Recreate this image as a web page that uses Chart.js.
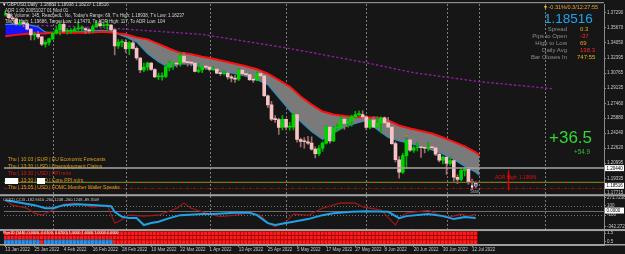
<!DOCTYPE html>
<html lang="en">
<head>
<meta charset="utf-8">
<title>GBPUSD Daily</title>
<script src="https://cdn.jsdelivr.net/npm/chart.js@4.4.1/dist/chart.umd.min.js"></script>
<style>
  html, body { margin: 0; padding: 0; background: #161616; }
  #wrap { position: relative; width: 625px; height: 254px; overflow: hidden; font-family: "Liberation Sans", Arial, sans-serif; }
  #c { position: absolute; left: 0; top: 0; }
  .t { position: absolute; white-space: nowrap; line-height: 1; }
  .hd { left: 5px; font-size: 4.5px; color: #d4d4d4; }
  .ev { left: 8px; font-size: 5px; color: #d9a11e; }
  .lb { right: 58px; font-size: 6px; color: #8c8c8c; text-align: right; }
  .vl { left: 580px; font-size: 6px; }
</style>
</head>
<body>
<div id="wrap">
  <canvas id="c" width="625" height="254"></canvas>

  <div class="t hd" style="top:2.5px;left:3px"><span style="color:#fff">&#9662;</span> GBPUSD,Daily&nbsp; 1.18883 1.18938 1.18237 1.18516</div>
  <div class="t hd" style="top:8.5px">ADR 1.00 20051027 01 Mod 01</div>
  <div class="t hd" style="top:13.5px">Tick Volume: 145, ReachedL: No, Today's Range: 69, T's High: 1.18938, T's Low: 1.18237</div>
  <div class="t hd" style="top:19.5px">Target High: 1.19686, Target Low: 1.17479, To ADR High: 117, To ADR Low: 104</div>

  <div class="t" style="left:544px;top:4.5px;font-size:5.5px;color:#e9a23a"><span style="color:#e8c020">&#9662;</span> -0.31%/0.3/12:27:55</div>
  <div class="t" style="left:544px;top:12px;font-size:13.5px;color:#22a2ec">1.18516</div>
  <div class="t lb" style="top:25.7px">Spread</div><div class="t vl" style="top:25.7px;color:#e8a020">0.3</div>
  <div class="t lb" style="top:33px">Pips to Open</div><div class="t vl" style="top:33px;color:#ff2424">-37</div>
  <div class="t lb" style="top:40px">High to Low</div><div class="t vl" style="top:40px;color:#e8a020">69</div>
  <div class="t lb" style="top:47px">Daily Avg</div><div class="t vl" style="top:47px;color:#ff2424">138.3</div>
  <div class="t lb" style="top:54.4px">Bar Closes In</div><div class="t vl" style="top:54.4px;left:577px;color:#e8b020">747:55</div>

  <div class="t" style="left:549px;top:129px;font-size:17px;color:#33d633">+36.5</div>
  <div class="t" style="left:574px;top:149px;font-size:6.3px;color:#33c033">+54.9</div>

  <div class="t ev" style="top:157.2px">Thu | 10:03 | EUR | EU Economic Forecasts</div>
  <div class="t ev" style="top:164.2px">Thu | 13:30 | USD | Unemployment Claims</div>
  <div class="t ev" style="top:171.2px;color:#e01818">Thu | 13:30 | USD | PPI m/m</div>
  <div class="t ev" style="top:178.2px">Thu | 13:30 | USD | Core PPI m/m</div>
  <div class="t ev" style="top:185.2px">Thu | 15:05 | USD | FOMC Member Waller Speaks</div>
  <div class="t" style="left:5px;top:178px;width:13px;height:6px;background:#fff"></div>
  <div class="t" style="left:37px;top:178px;width:8px;height:6px;background:#fff"></div>

  <div class="t" style="left:495px;top:175.5px;font-size:4.8px;color:#e01010">ADR High: 1.19686</div>
  <div class="t" style="left:470px;top:189.5px;font-size:4.5px;color:#8aa0c0">Start</div>

  <div class="t" style="left:3px;top:198px;font-size:4px;color:#c8c8c8">CCI(2) CCI3 -182.9410 -260.1248 -260.1248 -89.3509</div>
  <div class="t" style="left:3px;top:231.8px;font-size:3.8px;color:#ffffff">Pips20 (1440, 0.0000, 0.0100, 0.0200) 1.0000 1.0000 1.0000 0.0000</div>
</div>

<script>
// GBPUSD daily, 13 Jan 2022 .. 13 Jul 2022 (bar index 0 .. 129)
const dateTickIdx = [0, 8, 16, 24, 32, 40, 48, 56, 64, 72, 80, 88, 96, 104, 112, 120, 128];
const dateTickLabels = ['13 Jan 2022', '25 Jan 2022', '4 Feb 2022', '16 Feb 2022', '28 Feb 2022', '10 Mar 2022',
  '22 Mar 2022', '1 Apr 2022', '13 Apr 2022', '25 Apr 2022', '5 May 2022', '17 May 2022', '27 May 2022',
  '8 Jun 2022', '20 Jun 2022', '30 Jun 2022', '12 Jul 2022'];
const monthSepIdx = [13, 33, 56, 77, 99, 121, 148];
const nowIdx = 130;

const priceTicks = [1.37290, 1.35670, 1.34050, 1.32395, 1.30765, 1.29135, 1.27460, 1.25880, 1.24240, 1.22620, 1.20995, 1.19335, 1.17715];

const openP = [
  1.3712,1.3716,1.3677,1.3665,1.3610,1.3617,1.3613,1.3553,1.3490,1.3497,
  1.3470,1.3390,1.3410,1.3448,1.3509,1.3545,1.3605,1.3530,1.3530,1.3535,
  1.3555,1.3560,1.3560,1.3545,1.3535,1.3580,1.3615,1.3590,1.3595,1.3597,
  1.3545,1.3370,1.3410,1.3410,1.3340,1.3405,1.3345,1.3240,1.3110,1.3140,
  1.3185,1.3115,1.3035,1.3035,1.3040,1.3145,1.3180,1.3180,1.3175,1.3260,
  1.3195,1.3190,1.3185,1.3095,1.3110,1.3145,1.3140,1.3115,1.3120,1.3075,
  1.3070,1.3075,1.3035,1.3020,1.3010,1.3110,1.3070,1.3060,1.3005,1.3000,
  1.3070,1.3045,1.2830,1.2730,1.2575,1.2570,1.2485,1.2575,1.2490,1.2490,
  1.2625,1.2355,1.2335,1.2330,1.2315,1.2250,1.2200,1.2260,1.2315,1.2490,
  1.2340,1.2480,1.2480,1.2575,1.2530,1.2555,1.2600,1.2625,1.2625,1.2600,
  1.2485,1.2565,1.2490,1.2530,1.2590,1.2535,1.2490,1.2310,1.2135,1.2000,
  1.2180,1.2350,1.2240,1.2265,1.2275,1.2265,1.2260,1.2270,1.2265,1.2195,
  1.2130,1.2165,1.2095,1.2125,1.1945,1.1920,1.2020,1.2030,1.1890,1.18883];
const highP = [
  1.3748,1.3737,1.3688,1.3680,1.3645,1.3647,1.3625,1.3560,1.3520,1.3530,
  1.3475,1.3425,1.3455,1.3520,1.3580,1.3628,1.3645,1.3560,1.3560,1.3575,
  1.3640,1.3590,1.3570,1.3560,1.3600,1.3645,1.3645,1.3620,1.3645,1.3605,
  1.3555,1.3440,1.3440,1.3440,1.3420,1.3435,1.3360,1.3245,1.3185,1.3195,
  1.3190,1.3125,1.3075,1.3080,1.3165,1.3210,1.3195,1.3200,1.3300,1.3298,
  1.3215,1.3235,1.3185,1.3180,1.3150,1.3175,1.3165,1.3150,1.3150,1.3110,
  1.3100,1.3080,1.3055,1.3055,1.3125,1.3150,1.3080,1.3075,1.3040,1.3090,
  1.3090,1.3050,1.2840,1.2770,1.2615,1.2585,1.2615,1.2580,1.2540,1.2640,
  1.2640,1.2370,1.2375,1.2390,1.2385,1.2275,1.2290,1.2330,1.2500,1.2495,
  1.2500,1.2525,1.2600,1.2600,1.2600,1.2620,1.2660,1.2665,1.2665,1.2615,
  1.2570,1.2600,1.2600,1.2600,1.2600,1.2595,1.2505,1.2330,1.2170,1.2205,
  1.2405,1.2360,1.2285,1.2325,1.2315,1.2295,1.2325,1.2310,1.2290,1.2215,
  1.2175,1.2165,1.2165,1.2165,1.1970,1.2035,1.2050,1.2040,1.1925,1.18938];
const lowP = [
  1.3697,1.3657,1.3645,1.3595,1.3590,1.3580,1.3545,1.3437,1.3435,1.3450,
  1.3375,1.3358,1.3380,1.3440,1.3500,1.3490,1.3520,1.3500,1.3505,1.3525,
  1.3520,1.3525,1.3505,1.3510,1.3515,1.3575,1.3580,1.3575,1.3530,1.3530,
  1.3272,1.3345,1.3360,1.3300,1.3275,1.3335,1.3220,1.3080,1.3090,1.3105,
  1.3105,1.3030,1.3005,1.3000,1.3025,1.3100,1.3115,1.3140,1.3150,1.3180,
  1.3150,1.3155,1.3090,1.3080,1.3080,1.3115,1.3100,1.3105,1.3070,1.3050,
  1.3055,1.3010,1.2980,1.2975,1.2995,1.3055,1.3045,1.2995,1.2975,1.2990,
  1.3020,1.2820,1.2700,1.2560,1.2540,1.2410,1.2460,1.2460,1.2455,1.2460,
  1.2325,1.2275,1.2260,1.2300,1.2240,1.2155,1.2180,1.2225,1.2305,1.2315,
  1.2330,1.2440,1.2470,1.2465,1.2490,1.2500,1.2590,1.2610,1.2580,1.2460,
  1.2470,1.2485,1.2480,1.2425,1.2500,1.2485,1.2300,1.2110,1.1934,1.1985,
  1.2040,1.2225,1.2215,1.2230,1.2160,1.2210,1.2230,1.2245,1.2180,1.2110,
  1.2090,1.1975,1.2075,1.1900,1.1875,1.1905,1.1960,1.1870,1.1810,1.18237];
const closeP = [
  1.3716,1.3677,1.3665,1.3610,1.3617,1.3613,1.3553,1.3490,1.3497,1.3470,
  1.3390,1.3410,1.3448,1.3509,1.3545,1.3605,1.3530,1.3530,1.3535,1.3555,
  1.3560,1.3560,1.3545,1.3535,1.3580,1.3615,1.3590,1.3595,1.3597,1.3545,
  1.3370,1.3410,1.3410,1.3340,1.3405,1.3345,1.3240,1.3110,1.3140,1.3185,
  1.3115,1.3035,1.3035,1.3040,1.3145,1.3180,1.3180,1.3175,1.3260,1.3195,
  1.3190,1.3185,1.3095,1.3110,1.3145,1.3140,1.3115,1.3120,1.3075,1.3070,
  1.3075,1.3035,1.3020,1.3010,1.3110,1.3070,1.3060,1.3005,1.3000,1.3070,
  1.3045,1.2830,1.2730,1.2575,1.2570,1.2485,1.2575,1.2490,1.2490,1.2625,
  1.2355,1.2335,1.2330,1.2315,1.2250,1.2200,1.2260,1.2315,1.2490,1.2340,
  1.2480,1.2480,1.2575,1.2530,1.2555,1.2600,1.2625,1.2625,1.2600,1.2485,
  1.2565,1.2490,1.2530,1.2590,1.2535,1.2490,1.2310,1.2135,1.2000,1.2180,
  1.2350,1.2240,1.2265,1.2275,1.2265,1.2260,1.2270,1.2265,1.2195,1.2130,
  1.2165,1.2095,1.2125,1.1945,1.1920,1.2020,1.2030,1.1890,1.1888,1.18516];

// channel: red edge and blue/teal edge
const bandIdx   = [0, 3, 6, 9, 11, 12, 15, 18, 21, 24, 27, 29, 30, 31, 33, 36, 39, 42, 45, 48, 51, 54, 57, 60, 63, 66, 69, 72,
                   75, 78, 81, 84, 87, 90, 93, 96, 99, 102, 105, 108, 111, 114, 117, 120, 123, 126, 129, 130];
const bandRed   = [1.3475, 1.3491, 1.3502, 1.3505, 1.3507, 1.3510, 1.3513, 1.3513, 1.3515, 1.3518, 1.3524, 1.3518, 1.3513, 1.3507,
                   1.3497, 1.3464, 1.3442, 1.3394, 1.3340, 1.3296, 1.3280, 1.3253, 1.3232, 1.3205, 1.3177, 1.3150, 1.3118, 1.3069,
                   1.2999, 1.2929, 1.2821, 1.2734, 1.2658, 1.2626, 1.2610, 1.2599, 1.2593, 1.2593, 1.2561, 1.2507, 1.2475, 1.2448,
                   1.2420, 1.2377, 1.2329, 1.2280, 1.2215, 1.2183];
const bandTeal  = [1.3605, 1.3605, 1.3605, 1.3578, 1.3520, 1.3518, 1.3520, 1.3524, 1.3529, 1.3537, 1.3540, 1.3529, 1.3524, 1.3497,
                   1.3469, 1.3415, 1.3289, 1.3199, 1.3134, 1.3177, 1.3172, 1.3134, 1.3113, 1.3091, 1.3069, 1.3042, 1.3004, 1.2950,
                   1.2810, 1.2669, 1.2550, 1.2442, 1.2356, 1.2426, 1.2491, 1.2529, 1.2561, 1.2464, 1.2377, 1.2339, 1.2312, 1.2280,
                   1.2242, 1.2199, 1.2139, 1.2064, 1.1999, 1.1966];

// slow average (purple dotted)
const slowMaIdx = [0, 15, 30, 54, 77, 99, 112, 130, 150];
const slowMa    = [1.3600, 1.3588, 1.3561, 1.3496, 1.3350, 1.3188, 1.3080, 1.2983, 1.2907];

// CCI window
const cciSlowIdx = [0, 3, 8, 11, 13, 16, 20, 25, 29, 30, 32, 34, 36, 38, 40, 42, 45, 48, 54, 57, 63, 67, 69, 72, 74, 77, 79,
                    83, 87, 90, 95, 99, 105, 108, 110, 116, 120, 123, 126, 129];
const cciSlow    = [223, 186, 116, 51, 51, 116, 137, 116, 94, -28, -135, -163, -163, -313, -270, -242, -163, -99, -77, -77,
                    -49, -49, -99, -270, -313, -270, -242, -184, -99, -56, -28, -13, -28, -163, -120, -77, -120, -184, -141, -163];
const cciFastIdx = [0, 2, 6, 8, 10, 13, 16, 19, 24, 28, 30, 31, 34, 38, 42, 47, 49, 51, 56, 59, 63, 67, 70, 72, 74, 77, 79,
                    83, 87, 92, 96, 98, 103, 107, 108, 110, 116, 119, 122, 125, 127, 129];
const cciFast    = [223, 116, 51, -56, -99, 9, 137, 159, 73, 116, -270, -242, -99, -120, -99, 51, 159, 51, -77, -135,
                    -99, -49, -99, -270, -349, -242, -77, -99, 51, 165, 159, 79, 9, -313, -163, -56, 4, -99, -135, -77, -120, -77];
const cciTicks = [271.7238, 100, -100, -342.2722];

// Pips20 state grid: runs of bars where the bottom row is blue
const pipsBlueRuns = [[0, 9], [11, 29]];

// horizontal levels
const levelLine = 1.2044, todayOpen = 1.18883, todayLow = 1.18237, bidPrice = 1.18516;
const adrMarkIdx = 138, adrMarkRange = [1.2020, 1.1804];

// small signal marks
const markIdx   = [110, 110, 127, 128, 128, 129];
const markPrice = [1.2395, 1.2365, 1.1880, 1.1902, 1.1845, 1.1862];
const markColors = ['#ff6a20', '#3a5cff', '#3a5cff', '#ff2020', '#ffffff', '#3a5cff'];

// ---- chart ----
const FONT = 'Liberation Sans, Arial, sans-serif';
const idx = openP.map((_, i) => i);
const bull = idx.map(i => closeP[i] >= openP[i]);
const isBlue = i => pipsBlueRuns.some(([a, b]) => i >= a && i <= b);
const pts = (xs, ys) => xs.map((x, k) => ({ x, y: ys[k] }));

function hline(ctx, x0, x1, y) { ctx.beginPath(); ctx.moveTo(x0, y); ctx.lineTo(x1, y); ctx.stroke(); }
function vline(ctx, x, y0, y1) { ctx.beginPath(); ctx.moveTo(x, y0); ctx.lineTo(x, y1); ctx.stroke(); }

const decor = {
  id: 'decor',
  beforeDatasetsDraw(chart) {
    const { ctx, chartArea: a, scales: { x, yP, yC } } = chart;
    ctx.save();
    ctx.lineWidth = 1;
    ctx.strokeStyle = '#7c7c7c';
    ctx.setLineDash([2, 2]);
    monthSepIdx.forEach(v => vline(ctx, Math.round(x.getPixelForValue(v)) + 0.5, a.top, yC.bottom));
    vline(ctx, Math.round(x.getPixelForValue(nowIdx)) + 0.5, a.top, yP.bottom);
    // CCI levels
    ctx.strokeStyle = '#6e6e6e';
    ctx.setLineDash([1, 2]);
    [100, -100].forEach(v => hline(ctx, a.left, a.right, Math.round(yC.getPixelForValue(v)) + 0.5));
    ctx.setLineDash([]);
    hline(ctx, a.left, a.right, Math.round(yC.getPixelForValue(0)) + 0.5);
    ctx.restore();
  },
  afterDatasetsDraw(chart) {
    const { ctx, chartArea: a, scales: { x, yP, yC, yG } } = chart;
    ctx.save();
    // level line
    ctx.strokeStyle = '#a4a4a4'; ctx.lineWidth = 1.5;
    hline(ctx, a.left, a.right, yP.getPixelForValue(levelLine));
    // today's open (two-colour dashes) and low
    const yo = yP.getPixelForValue(todayOpen);
    ctx.lineWidth = 1.2;
    ctx.setLineDash([3, 3]); ctx.strokeStyle = '#2f9a2f'; hline(ctx, a.left, a.right, yo);
    ctx.lineDashOffset = 3; ctx.strokeStyle = '#c84a10'; hline(ctx, a.left, a.right, yo);
    ctx.lineDashOffset = 0;
    ctx.setLineDash([3, 1.5, 1, 1.5]); ctx.strokeStyle = '#9a1414'; ctx.lineWidth = 1;
    hline(ctx, a.left, a.right, yP.getPixelForValue(todayLow));
    ctx.setLineDash([]);
    // ADR mark
    ctx.strokeStyle = '#e00000'; ctx.lineWidth = 1.5;
    vline(ctx, x.getPixelForValue(adrMarkIdx), yP.getPixelForValue(adrMarkRange[0]), yP.getPixelForValue(adrMarkRange[1]));
    // frame and panel separators
    ctx.fillStyle = '#8c8c8c';
    ctx.fillRect(0, a.top - 2, a.right, 1.2);
    ctx.fillStyle = '#a2a2a2';
    ctx.fillRect(0, yP.bottom - 1, chart.width, 2);
    ctx.fillRect(0, yC.bottom - 1, chart.width, 2);
    ctx.fillRect(0, yG.bottom - 1, chart.width, 1.5);
    // value boxes on the price/CCI axes
    ctx.font = '4.5px ' + FONT;
    ctx.textBaseline = 'middle';
    [[yP, levelLine, 5], [yP, bidPrice, 5], [yC, 0, 4]].forEach(([s, v, d]) => {
      const y = s.getPixelForValue(v);
      ctx.fillStyle = '#ffffff';
      ctx.fillRect(a.right + 1, y - 3, 19, 6);
      ctx.fillStyle = '#000000';
      ctx.fillText(v.toFixed(d), a.right + 2.5, y + 0.3);
    });
    ctx.restore();
  }
};

const yAxis = (extra) => Object.assign({
  type: 'linear', position: 'right', stack: 'win',
  afterFit: s => { s.width = 21; },
  grid: { drawOnChartArea: false, tickLength: 2, color: '#8a8a8a' },
  border: { color: '#8a8a8a' },
  ticks: { autoSkip: false, padding: 1, color: '#c8c8c8', font: { size: 4.5, family: FONT } }
}, extra);

const gridRow = (colorFn) => ({
  type: 'bar', yAxisID: 'yG', grouped: false, order: 8,
  data: idx.map(i => ({ x: i, y: 1 })),
  backgroundColor: idx.map(colorFn),
  borderColor: idx.map(i => colorFn(i) === '#ff1c1c' ? '#a80000' : '#1a5a9a'),
  borderWidth: { top: 1, right: 1, left: 0, bottom: 0 }, borderSkipped: false,
  barPercentage: 1, categoryPercentage: 1
});

new Chart(document.getElementById('c'), {
  type: 'bar',
  data: {
    datasets: [
      { type: 'line', yAxisID: 'yP', data: pts(slowMaIdx, slowMa), borderColor: '#8e1c9e', borderWidth: 1.4,
        borderDash: [2.5, 2], pointRadius: 0, order: 5 },
      { type: 'line', yAxisID: 'yP', data: pts(bandIdx, bandRed), borderColor: '#ff1010', borderWidth: 2,
        pointRadius: 0, order: 3 },
      { type: 'line', yAxisID: 'yP', data: pts(bandIdx, bandTeal), borderColor: '#2f8fbf', borderWidth: 1.2,
        pointRadius: 0, order: 4, fill: { target: '-1', above: '#1414ff', below: '#7a7a7a' } },
      { type: 'bar', yAxisID: 'yP', grouped: false, order: 2, barThickness: 1,
        data: idx.map(i => ({ x: i, y: [lowP[i], highP[i]] })),
        backgroundColor: idx.map(i => bull[i] ? '#00b000' : '#a06a6a') },
      { type: 'bar', yAxisID: 'yP', grouped: false, order: 1, barThickness: 3, minBarLength: 1,
        data: idx.map(i => ({ x: i, y: [openP[i], closeP[i]] })),
        backgroundColor: idx.map(i => bull[i] ? '#00d400' : '#f6c4c4') },
      { type: 'line', yAxisID: 'yP', data: pts(markIdx, markPrice), showLine: false, pointStyle: 'rect',
        pointRadius: 1.5, pointBorderWidth: 0, pointBackgroundColor: markColors, order: 0 },
      { type: 'line', yAxisID: 'yC', data: pts(cciFastIdx, cciFast), borderColor: '#a31818', borderWidth: 1.1,
        pointRadius: 0, order: 7 },
      { type: 'line', yAxisID: 'yC', data: pts(cciSlowIdx, cciSlow), borderColor: '#1ea2e8', borderWidth: 2,
        pointRadius: 0, order: 6 },
      gridRow(i => isBlue(i) ? '#2f8fe6' : '#ff1c1c'),
      gridRow(() => '#ff1c1c'),
      gridRow(() => '#ff1c1c')
    ]
  },
  options: {
    responsive: false, animation: false, devicePixelRatio: 1, events: [],
    layout: { padding: { top: 3, left: 0, right: 0, bottom: 0 } },
    plugins: { legend: { display: false }, tooltip: { enabled: false } },
    scales: {
      x: {
        type: 'linear', position: 'bottom', min: -0.354, max: 164.18, offset: false,
        afterBuildTicks: s => { s.ticks = dateTickIdx.map(v => ({ value: v })); },
        afterFit: s => { s.height = 9; },
        grid: { drawOnChartArea: false, offset: false, tickLength: 2, color: '#8a8a8a' },
        border: { color: '#9a9a9a' },
        ticks: { autoSkip: false, maxRotation: 0, align: 'start', padding: 0, color: '#c8c8c8',
          font: { size: 4.5, family: FONT }, callback: (v, i) => dateTickLabels[i] }
      },
      yP: yAxis({ weight: 0, stackWeight: 192, min: 1.17498, max: 1.38263,
        afterBuildTicks: s => { s.ticks = priceTicks.map(v => ({ value: v })); },
        ticks: { autoSkip: false, padding: 1, color: '#c8c8c8', font: { size: 4.5, family: FONT }, callback: v => v.toFixed(5) } }),
      yC: yAxis({ weight: 1, stackWeight: 35, min: -420, max: 330,
        afterBuildTicks: s => { s.ticks = cciTicks.map(v => ({ value: v })); },
        ticks: { autoSkip: false, padding: 1, color: '#c8c8c8', font: { size: 4.5, family: FONT },
          callback: v => Number.isInteger(v) ? String(v) : v.toFixed(4) } }),
      yG: yAxis({ weight: 2, stackWeight: 15, min: -0.23, max: 3.23, stacked: true,
        afterBuildTicks: s => { s.ticks = [{ value: 2.5 }, { value: 0.5 }]; },
        ticks: { autoSkip: false, padding: 1, color: '#c8c8c8', font: { size: 4.5, family: FONT },
          callback: v => v === 2.5 ? '1.5' : '0.5' } })
    }
  },
  plugins: [decor]
});
</script>
</body>
</html>
